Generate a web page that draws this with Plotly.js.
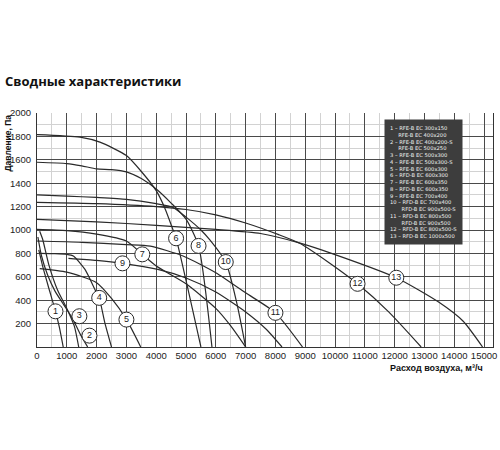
<!DOCTYPE html>
<html>
<head>
<meta charset="utf-8">
<script src="https://cdn.plot.ly/plotly-3.0.1.min.js"></script>
<style>
  html, body { margin: 0; padding: 0; background: #fff; }
  #chart { width: 500px; height: 450px; }
</style>
</head>
<body>
<div id="chart"></div>
<script>
// Расход воздуха (м³/ч) и давление (Па) для каждой кривой
const q1 = [60, 200, 400, 620, 750, 880];
const p1 = [830, 680, 500, 305, 170, 0];
const q2 = [30, 150, 350, 600, 900, 1200, 1450, 1700];
const p2 = [940, 780, 620, 480, 360, 240, 110, 0];
const q3 = [90, 190, 400, 700, 1000, 1250, 1400];
const p3 = [990, 921, 700, 480, 330, 180, 0];
const q4 = [90, 600, 1000, 1220, 1610, 1943, 2087, 2277, 2500];
const p4 = [801, 798, 792, 778, 663, 492, 420, 206, 0];
const q5 = [90, 1000, 2000, 2500, 3000, 3480];
const p5 = [670, 640, 550, 415, 236, 0];
const q6 = [0, 1443, 2110, 3000, 3500, 4000, 4300, 4555, 4667, 5500];
const p6 = [1816, 1794, 1751, 1636, 1500, 1336, 1180, 1007, 929, 0];
const q7 = [0, 1000, 2000, 3000, 3533, 4000, 5000, 6000, 6500, 7000];
const p7 = [1005, 995, 965, 906, 792, 692, 540, 330, 180, 0];
const q8 = [0, 1000, 1500, 2000, 2500, 3000, 3500, 4000, 4500, 5000, 5420, 5870];
const p8 = [1579, 1568, 1548, 1522, 1516, 1497, 1440, 1350, 1230, 1093, 864, 0];
const q9 = [1055, 2000, 2867, 4055, 5000, 6000, 7000, 7700, 8220];
const p9 = [758, 740, 715, 663, 590, 470, 300, 150, 0];
const q10 = [0, 1000, 2000, 3000, 4000, 4550, 5000, 5500, 5800, 6333, 6700, 7000];
const p10 = [1300, 1290, 1278, 1262, 1225, 1195, 1110, 1000, 915, 726, 380, 0];
const q11 = [0, 1500, 3000, 3800, 4900, 6000, 7000, 8000, 8910];
const p11 = [906, 895, 875, 862, 778, 635, 463, 292, 0];
const q12 = [0, 2000, 4000, 5000, 6000, 7000, 8110, 8833, 9800, 10755, 11800, 12890];
const p12 = [1236, 1225, 1200, 1175, 1130, 1060, 960, 884, 720, 540, 300, 0];
const q13 = [0, 2000, 4000, 6000, 7500, 8800, 10000, 12055, 13500, 14300, 14950];
const p13 = [1090, 1070, 1040, 1005, 970, 890, 790, 592, 380, 220, 0];

const curvesQ = [q1, q2, q3, q4, q5, q6, q7, q8, q9, q10, q11, q12, q13];
const curvesP = [p1, p2, p3, p4, p5, p6, p7, p8, p9, p10, p11, p12, p13];

// Номера кривых в кружках
const labelText = ['1', '2', '3', '4', '5', '6', '7', '8', '9', '10', '11', '12', '13'];
const labelQ = [620, 1760, 1422, 2087, 3000, 4667, 3533, 5420, 2867, 6333, 8000, 10755, 12055];
const labelP = [305, 97, 263, 420, 234, 929, 792, 864, 715, 726, 292, 540, 592];

const xTicks = [0, 1000, 2000, 3000, 4000, 5000, 6000, 7000, 8000, 9000, 10000, 11000, 12000, 13000, 14000, 15000];
const yTicks = [200, 400, 600, 800, 1000, 1200, 1400, 1600, 1800, 2000];

const legendLines = [
    '1 \u2013 RFE-B EC 300x150',
    '\u00a0\u00a0\u00a0\u00a0\u00a0RFE-B EC 400x200',
    '2 \u2013 RFE-B EC 400x200-S',
    '\u00a0\u00a0\u00a0\u00a0\u00a0RFE-B EC 500x250',
    '3 \u2013 RFE-B EC 500x300',
    '4 \u2013 RFE-B EC 500x300-S',
    '5 \u2013 RFE-B EC 600x300',
    '6 \u2013 RFD-B EC 600x300',
    '7 \u2013 RFE-B EC 600x350',
    '8 \u2013 RFD-B EC 600x350',
    '9 \u2013 RFE-B EC 700x400',
    '10 \u2013 RFD-B EC 700x400',
    '\u00a0\u00a0\u00a0\u00a0\u00a0\u00a0\u00a0RFD-B EC 900x500-S',
    '11 \u2013 RFD-B EC 800x500',
    '\u00a0\u00a0\u00a0\u00a0\u00a0\u00a0\u00a0RFD-B EC 900x500',
    '12 \u2013 RFD-B EC 800x500-S',
    '13 \u2013 RFD-B EC 1000x500',
];

const LINE_COLOR = '#2a2a2a';
const FONT = 'Liberation Sans, Arial, sans-serif';

const traces = curvesQ.map(function(q, i) {
    return {
        x: q,
        y: curvesP[i],
        type: 'scatter',
        mode: 'lines',
        line: { color: LINE_COLOR, width: 1.2, shape: 'spline', smoothing: 0.6 },
        hoverinfo: 'skip',
        showlegend: false,
    };
});

traces.push({
    x: labelQ,
    y: labelP,
    type: 'scatter',
    mode: 'markers+text',
    text: labelText,
    textposition: 'middle center',
    textfont: { family: FONT, size: 9, color: '#222' },
    marker: { size: 15, color: '#fff', line: { color: LINE_COLOR, width: 1 } },
    hoverinfo: 'skip',
    showlegend: false,
    cliponaxis: false,
});

const layout = {
    width: 500,
    height: 450,
    paper_bgcolor: '#fff',
    plot_bgcolor: '#fff',
    margin: { l: 37, r: 7, t: 113, b: 103 },
    font: { family: FONT, size: 9.5, color: '#222' },
    title: {
        text: '<b>Сводные характеристики</b>',
        font: { family: 'Open Sans, sans-serif', size: 13, color: '#111' },
        x: 0.01, xanchor: 'left', xref: 'container',
        y: 1 - 81 / 450, yanchor: 'middle', yref: 'container',
    },
    xaxis: {
        range: [0, 15300],
        tickvals: xTicks,
        ticktext: xTicks.map(String),
        ticks: '',
        showline: true,
        linecolor: '#333',
        linewidth: 1,
        gridcolor: '#4a4a4a',
        gridwidth: 1,
        zeroline: false,
        minor: { dtick: 500, tick0: 0, showgrid: true, gridcolor: '#d2d2d2', gridwidth: 1, ticks: '' },
        tickfont: { family: FONT, size: 9.5, color: '#222' },
        fixedrange: true,
    },
    yaxis: {
        range: [0, 2000],
        tickvals: yTicks,
        ticktext: yTicks.map(String),
        ticks: '',
        ticklabelstandoff: 3,
        showline: true,
        mirror: true,
        linecolor: '#333',
        linewidth: 1,
        gridcolor: '#4a4a4a',
        gridwidth: 1,
        zeroline: false,
        minor: { dtick: 100, tick0: 0, showgrid: true, gridcolor: '#d2d2d2', gridwidth: 1, ticks: '' },
        tickfont: { family: FONT, size: 9.5, color: '#222' },
        fixedrange: true,
    },
    annotations: [
        {
            text: '<b>Давление, Па</b>',
            textangle: -90,
            xref: 'paper', yref: 'paper',
            x: -30 / 456, y: 1.0,
            xanchor: 'center', yanchor: 'top',
            showarrow: false,
            font: { family: FONT, size: 8.5, color: '#111' },
        },
        {
            text: '<b>Расход воздуха, м³/ч</b>',
            xref: 'paper', yref: 'paper',
            x: (485 - 37) / 456, y: -(368 - 347) / 234,
            xanchor: 'right', yanchor: 'middle',
            showarrow: false,
            font: { family: FONT, size: 9, color: '#111' },
        },
        {
            text: legendLines.join('<br>'),
            align: 'left',
            xref: 'paper', yref: 'paper',
            x: (384 - 37) / 456, y: (347 - 119) / 234,
            xanchor: 'left', yanchor: 'top',
            showarrow: false,
            bgcolor: '#3d3d3d',
            borderpad: 5,
            font: { family: 'DejaVu Sans, sans-serif', size: 5.2, color: '#f2f2f2' },
        },
    ],
};

Plotly.newPlot('chart', traces, layout, { displayModeBar: false, staticPlot: true });
</script>
</body>
</html>
